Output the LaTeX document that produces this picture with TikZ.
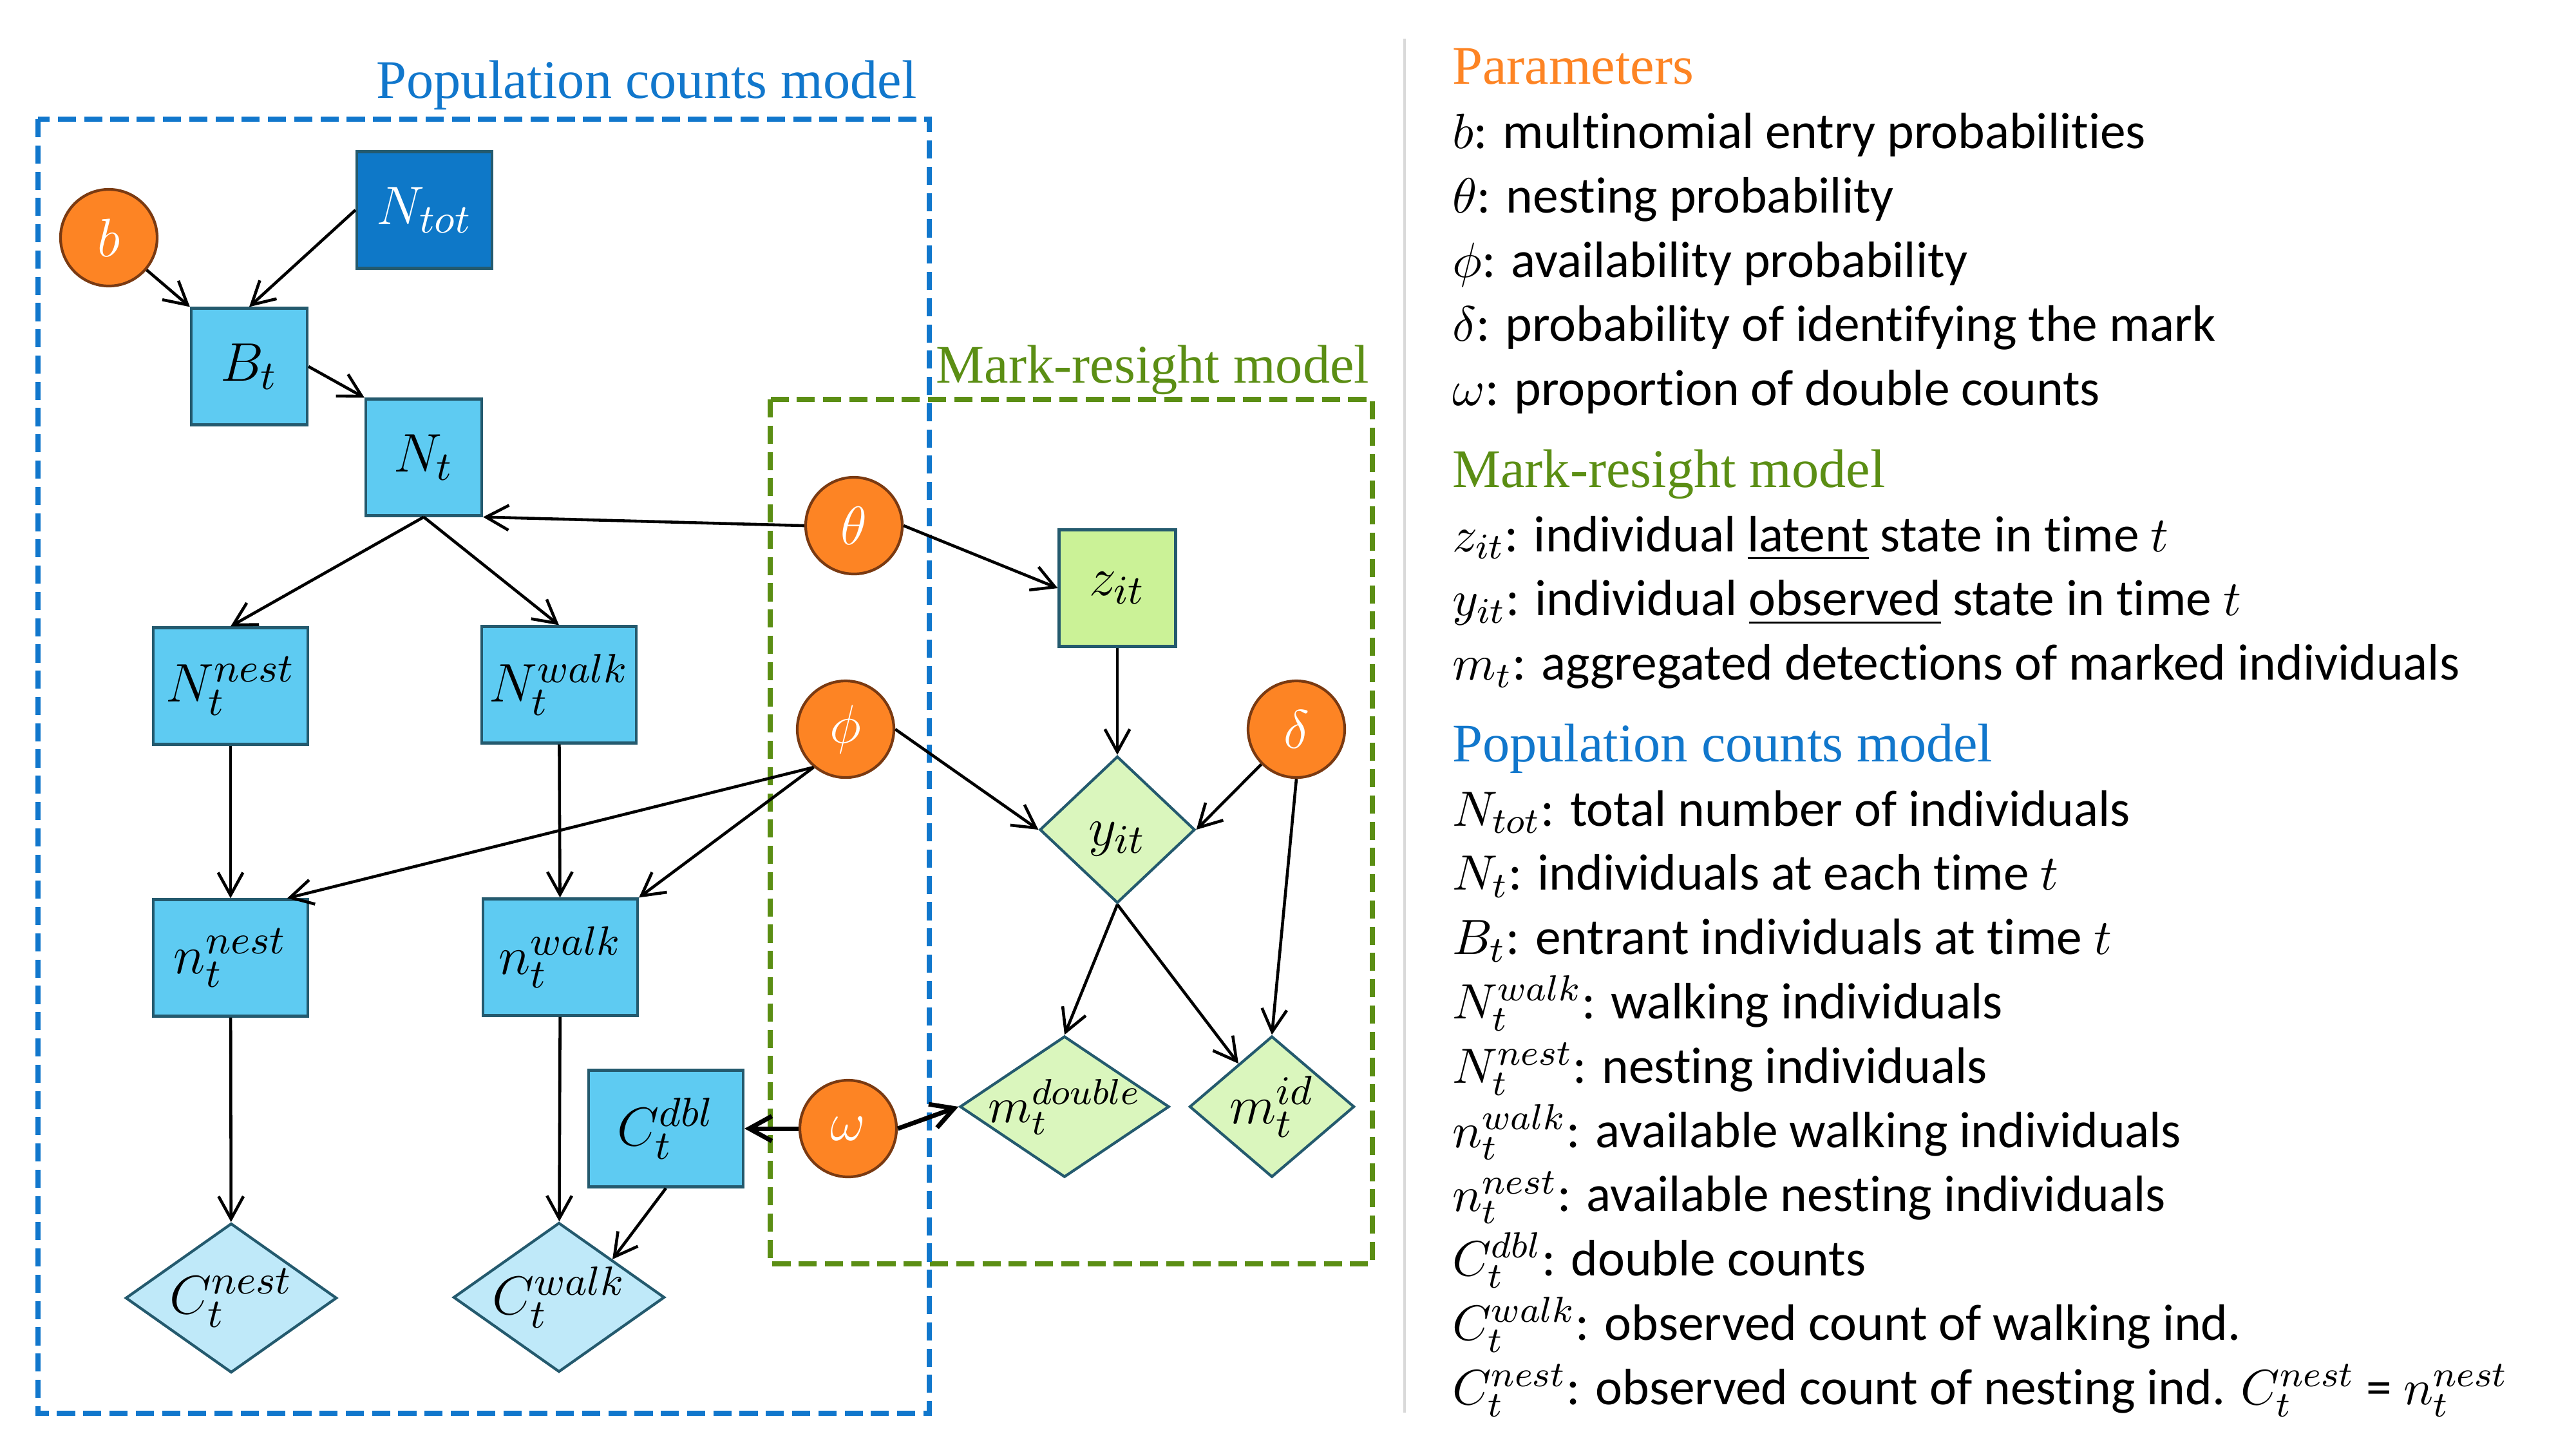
\documentclass[tikz,border=0pt]{standalone}
\usepackage[no-math]{fontspec}
\setmainfont{Carlito}[Ligatures=NoCommon]
\newfontfamily\headfont{Liberation Serif}
\usetikzlibrary{arrows.meta, positioning, shapes.geometric, calc}
\definecolor{parorange}{HTML}{FD8424}
\definecolor{parbrown}{HTML}{7A3A12}
\definecolor{popblue}{HTML}{1177CC}
\definecolor{totblue}{HTML}{0E78C8}
\definecolor{boxblue}{HTML}{5ECBF2}
\definecolor{obsblue}{HTML}{BFE9F9}
\definecolor{edgeteal}{HTML}{245A6E}
\definecolor{markgreen}{HTML}{5B8E14}
\definecolor{latgreen}{HTML}{CBF297}
\definecolor{obsgreen}{HTML}{DAF6BD}
\definecolor{sepgray}{HTML}{D9D9D9}

\begin{document}
\begin{tikzpicture}[
  font=\fontsize{12.5}{15}\selectfont,
  param/.style={circle, fill=parorange, draw=parbrown, line width=0.6pt,
              text=white, minimum size=0.75cm, inner sep=0pt},
  state/.style={rectangle, fill=boxblue, draw=edgeteal, line width=0.6pt,
              minimum width=1.2cm, minimum height=0.905cm, inner sep=0pt},
  obs/.style={diamond, fill=obsblue, draw=edgeteal, line width=0.6pt,
              minimum width=1.64cm, minimum height=1.16cm, inner sep=0pt},
  mobs/.style={diamond, fill=obsgreen, draw=edgeteal, line width=0.6pt,
              minimum height=1.095cm, inner sep=0pt},
  frame/.style={dashed, line width=1.1pt, dash pattern=on 4pt off 1.8pt},
  title/.style={font=\headfont\fontsize{12}{14}\selectfont, anchor=base},
  arr/.style={-{Straight Barb[length=5pt, width=5.5pt]}, line width=0.65pt},
  thick arr/.style={arr, line width=1pt}
]
\useasboundingbox (0,0) rectangle (20,-11.25);

% model frames
\draw[frame, markgreen] (5.98,-3.1) rectangle (10.655,-9.81);
\draw[frame, popblue] (0.295,-0.925) rectangle (7.215,-10.97);
\node (poptitle) [title, text=popblue] at (5.02,-0.76) {Population counts model};
\node (marktitle) [title, text=markgreen] at (8.95,-2.97) {Mark-resight model};

% population counts model
\node (b) [param] at (0.845,-1.845) {$b$};
\node (Ntot) [state, fill=totblue, text=white, minimum width=1.05cm]
  at (3.295,-1.63) {$N_{tot}$};
\node (Bt) [state, minimum width=0.9cm] at (1.935,-2.845) {$B_t$};
\node (Nt) [state, minimum width=0.9cm] at (3.29,-3.55) {$N_t$};
\node (Nnest) [state] at (1.79,-5.325) {$N_t^{nest}$};
\node (Nwalk) [state] at (4.34,-5.315) {$N_t^{walk}$};
\node (nnest) [state] at (1.79,-7.435) {$n_t^{nest}$};
\node (nwalk) [state] at (4.35,-7.43) {$n_t^{walk}$};
\node (Cdbl) [state] at (5.17,-8.76) {$C_t^{dbl}$};
\node (Cnest) [obs, label=center:{$C_t^{nest}$}] at (1.795,-10.075) {};
\node (Cwalk) [obs, label=center:{$C_t^{walk}$}] at (4.34,-10.07) {};

% parameters
\node (theta) [param] at (6.63,-4.08) {$\theta$};
\node (phi) [param] at (6.565,-5.66) {$\phi$};
\node (omega) [param] at (6.585,-8.76) {$\omega$};
\node (delta) [param] at (10.065,-5.66) {$\delta$};

% mark-resight model
\node (zit) [state, fill=latgreen, minimum width=0.905cm] at (8.675,-4.565) {$z_{it}$};
\node (yit) [mobs, aspect=1.06, minimum width=1.205cm, minimum height=1.14cm,
  label={[yshift=-2pt]center:{$y_{it}$}}] at (8.675,-6.44) {};
\node (mdouble) [mobs, minimum width=1.625cm,
  label={[font=\fontsize{11}{13}\selectfont]center:{$m_t^{double}$}}] at (8.265,-8.59) {};
\node (mid) [mobs, minimum width=1.28cm, label=center:{$m_t^{id}$}] at (9.875,-8.59) {};

\draw[arr] (b) -- (Bt.north west);
\draw[arr] (Ntot.west) -- (Bt.north);
\draw[arr] (Bt.east) -- (Nt.north west);
\draw[arr] (theta.west) -- (Nt.south east);
\draw[arr] (Nt.south) -- (Nnest.north);
\draw[arr] (Nt.south) -- (Nwalk.north);
\draw[arr] (Nnest) -- (nnest);
\draw[arr] (Nwalk) -- (nwalk);
\draw[arr] (phi.230) -- ($(nnest.north)!0.72!(nnest.north east)$);
\draw[arr] (phi.230) -- (nwalk.north east);
\draw[arr] (phi.east) -- (yit.west);
\draw[arr] (theta.east) -- (zit.west);
\draw[arr] (zit) -- (yit);
\draw[arr] (delta.225) -- (yit.east);
\draw[arr] (delta.south) -- (mid.north);
\draw[arr] (yit.south) -- (mdouble.north);
\draw[arr] (yit.south) -- ($(mid.north)!0.4!(mid.west)$);
\draw[thick arr] (omega.west) -- (Cdbl.east);
\draw[thick arr] (omega.east) -- (mdouble.west);
\draw[arr] (Cdbl.south) -- ($(Cwalk.north)!0.5!(Cwalk.east)$);
\draw[arr] (nnest) -- (Cnest);
\draw[arr] (nwalk) -- (Cwalk);

% legend
\draw[sepgray, line width=0.7pt] (10.905,-0.3) -- (10.905,-10.965);
\node (legend) [anchor=north west, align=left, inner sep=0pt,
  font=\fontsize{11.3}{14.2}\selectfont] at (11.27,-0.37)
  {{\headfont\fontsize{12}{14.2}\selectfont\color{parorange}Parameters}\\
   $b$: multinomial entry probabilities\\
   $\theta$: nesting probability\\
   $\phi$: availability probability\\
   $\delta$: probability of identifying the mark\\
   $\omega$: proportion of double counts\\[3.8pt]
   {\headfont\fontsize{12}{14.2}\selectfont\color{markgreen}Mark-resight model}\\
   $z_{it}$: individual \underline{latent} state in time $t$\\
   $y_{it}$: individual \underline{observed} state in time $t$\\
   $m_t$: aggregated detections of marked individuals\\[3.8pt]
   {\headfont\fontsize{12}{14.2}\selectfont\color{popblue}Population counts model}\\
   $N_{tot}$: total number of individuals\\
   $N_t$: individuals at each time $t$\\
   $B_t$: entrant individuals at time $t$\\
   $N_t^{walk}$: walking individuals\\
   $N_t^{nest}$: nesting individuals\\
   $n_t^{walk}$: available walking individuals\\
   $n_t^{nest}$: available nesting individuals\\
   $C_t^{dbl}$: double counts\\
   $C_t^{walk}$: observed count of walking ind.\\
   $C_t^{nest}$: observed count of nesting ind. $C_t^{nest}$ = $n_t^{nest}$};
\end{tikzpicture}
\end{document}
